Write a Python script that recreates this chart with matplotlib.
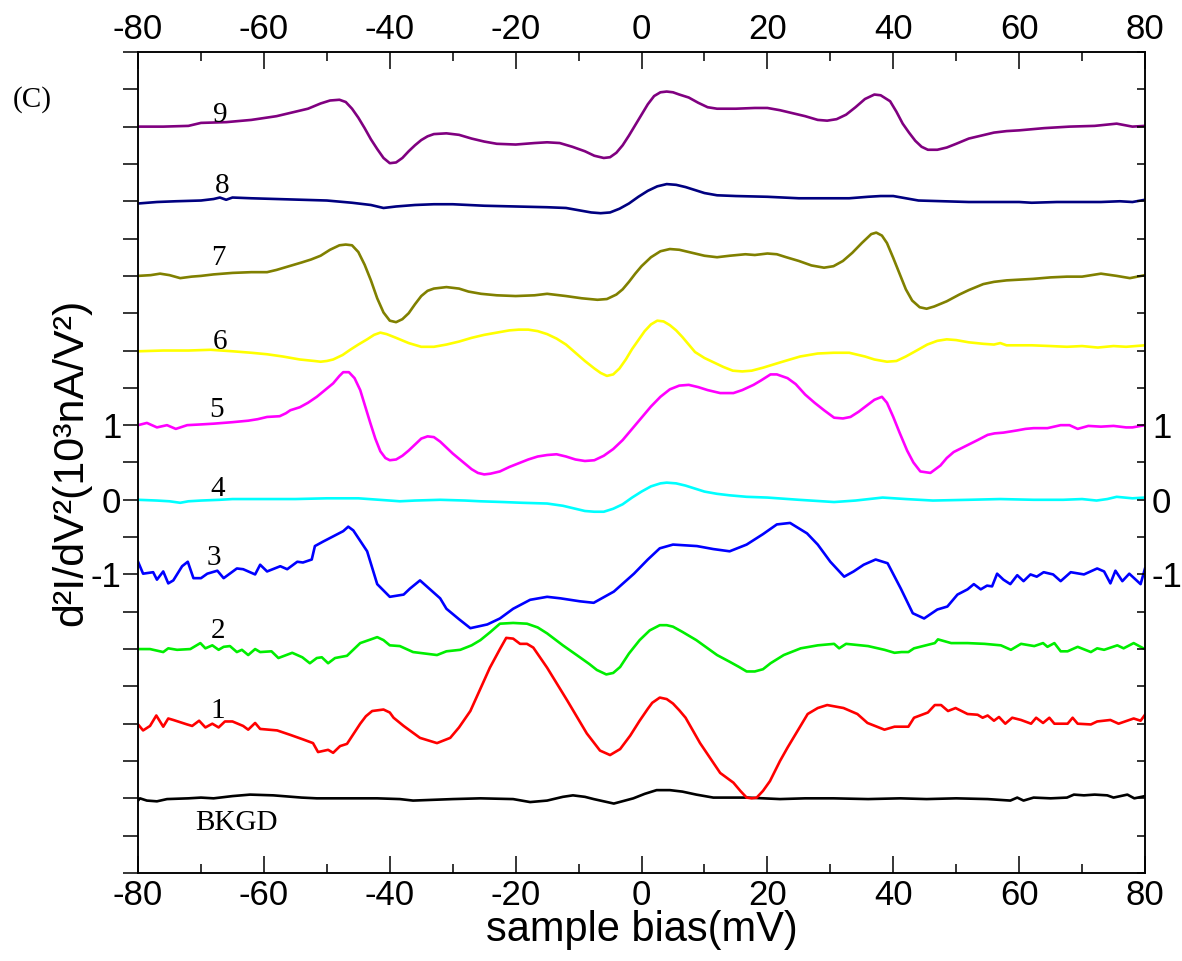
import matplotlib
matplotlib.use("Agg")
import matplotlib.pyplot as plt
from matplotlib.ticker import FixedLocator, MultipleLocator, FormatStrFormatter
import numpy as np

# Second-derivative tunneling spectra, each trace stacked by one unit
bkgd_x = [-80, -79.7, -78.6, -77, -75.4, -72, -70, -68, -65, -62.2, -58.5, -57, -54, -51.6, -46.3, -42, -38.4, -36.3, -30, -25.6, -20.4, -17.7, -15, -12.5, -10.9, -9, -7.6, -4.4, -1.3, 0.5, 2.4, 4.5, 6.5, 8.7, 11.4, 14, 16.8, 22, 26, 30.5, 36, 41.1, 45.3, 50, 55, 58.6, 59.7, 60.7, 62.3, 65, 67.6, 68.7, 70.3, 72, 74, 75, 77.2, 78.3, 80]
bkgd_y = [-0.03, 0.0, -0.03, -0.04, -0.01, 0.0, 0.01, 0.0, 0.03, 0.05, 0.04, 0.03, 0.01, 0.0, 0.0, 0.0, -0.01, -0.03, -0.01, 0.0, -0.01, -0.05, -0.03, 0.02, 0.04, 0.02, -0.01, -0.07, 0.0, 0.06, 0.11, 0.11, 0.09, 0.05, 0.01, 0.01, 0.01, -0.01, 0.0, 0.0, -0.01, 0.0, -0.01, 0.0, -0.01, -0.03, 0.01, -0.03, 0.01, 0.0, 0.01, 0.05, 0.04, 0.05, 0.04, 0.01, 0.05, 0.0, 0.03]

s1_x = [-80, -79.2, -78.1, -77.1, -76, -75.2, -74.4, -72.2, -71.4, -70.3, -69.3, -68.2, -67.2, -66.2, -65, -63.3, -62.5, -61.4, -60.6, -57.9, -55.8, -53.8, -52.2, -51.4, -49.8, -49, -47.9, -46.8, -44.7, -43.8, -42.8, -41, -40, -39.4, -37.8, -35.2, -32.5, -30.4, -29, -27.2, -24.1, -22.5, -21.5, -20.4, -19.3, -18.2, -17.2, -15, -11.8, -8.7, -6.6, -5, -3.4, -1.8, -0.3, 1, 1.7, 2.9, 4, 5, 6, 7, 9.3, 12.5, 14.6, 15.7, 16.7, 17.5, 18.3, 19.3, 20.4, 22, 23.2, 26.4, 28, 29.5, 32.1, 34.3, 35.9, 38.6, 40.2, 42.4, 43.3, 45.5, 46.6, 47.6, 48.7, 49.9, 51.8, 53.4, 54.2, 55, 56, 56.8, 57.8, 58.9, 60.3, 61.9, 62.7, 63.8, 64.8, 65.6, 67.7, 68.5, 69.3, 71.4, 72.4, 74.5, 75.8, 78.2, 79.3, 80]
s1_y = [-0.01, -0.09, -0.03, 0.11, -0.04, 0.07, 0.05, -0.01, -0.03, 0.04, -0.05, 0.0, -0.05, 0.03, 0.03, -0.03, -0.08, 0.01, -0.07, -0.09, -0.15, -0.21, -0.26, -0.38, -0.35, -0.39, -0.3, -0.27, 0.0, 0.1, 0.17, 0.19, 0.15, 0.08, -0.03, -0.19, -0.26, -0.19, -0.05, 0.17, 0.75, 1.0, 1.15, 1.14, 1.07, 1.07, 1.02, 0.75, 0.31, -0.13, -0.36, -0.42, -0.34, -0.16, 0.04, 0.2, 0.28, 0.35, 0.33, 0.27, 0.18, 0.08, -0.26, -0.66, -0.79, -0.9, -0.99, -1.0, -0.99, -0.9, -0.77, -0.5, -0.32, 0.13, 0.21, 0.25, 0.21, 0.13, 0.01, -0.08, -0.04, -0.04, 0.08, 0.15, 0.25, 0.25, 0.17, 0.21, 0.13, 0.12, 0.08, 0.11, 0.04, 0.09, 0.0, 0.08, 0.05, 0.0, 0.08, 0.01, 0.08, 0.0, 0.0, 0.08, 0.0, -0.01, 0.03, 0.05, 0.0, 0.07, 0.04, 0.12]

s2_x = [-80, -78.1, -76, -75.2, -73.8, -71.7, -70.1, -69.3, -68.2, -67.2, -66.4, -65.4, -64.3, -63.5, -62.5, -61.4, -60.6, -58.8, -57.7, -55.5, -53.9, -52.7, -51.6, -50.8, -49.8, -48.7, -46.8, -44.7, -43, -42, -41, -40, -38.4, -36.3, -32.5, -31, -28.8, -27, -25.6, -24, -22.5, -20.4, -18.2, -16.5, -15, -12.5, -9.8, -8.3, -7.1, -5.6, -4.5, -3.4, -2, -0.3, 1.3, 2.9, 4, 5, 6.5, 8.7, 12, 14, 15.5, 16.7, 18, 19.3, 20.5, 22.6, 25.3, 28, 30.6, 31.4, 32.5, 36, 38.6, 40.2, 41.3, 42.4, 43.3, 46.6, 47.1, 49.2, 51.8, 54.5, 57.1, 58.7, 60.3, 62.4, 63.8, 64.5, 65.6, 66.6, 67.7, 69.3, 71.4, 72.4, 73.5, 75.6, 76.6, 78.2, 79.3, 80]
s2_y = [0.0, 0.0, -0.04, 0.01, -0.01, 0.0, 0.08, 0.01, 0.05, -0.01, 0.03, 0.04, -0.04, -0.01, -0.08, 0.0, -0.04, -0.03, -0.12, -0.05, -0.11, -0.19, -0.12, -0.11, -0.19, -0.12, -0.09, 0.08, 0.13, 0.16, 0.12, 0.05, 0.04, -0.04, -0.08, -0.03, -0.01, 0.05, 0.12, 0.23, 0.34, 0.35, 0.34, 0.29, 0.21, 0.05, -0.11, -0.2, -0.28, -0.34, -0.32, -0.24, -0.06, 0.12, 0.25, 0.32, 0.32, 0.3, 0.23, 0.12, -0.08, -0.17, -0.24, -0.3, -0.3, -0.27, -0.19, -0.08, 0.01, 0.05, 0.07, 0.01, 0.07, 0.04, -0.01, -0.05, -0.04, -0.04, 0.01, 0.08, 0.13, 0.08, 0.08, 0.07, 0.05, -0.01, 0.07, 0.04, 0.08, 0.03, 0.08, -0.03, -0.03, 0.03, -0.04, 0.01, -0.01, 0.05, 0.01, 0.08, 0.03, 0.0]

s3_x = [-80, -79.2, -77.6, -77, -76, -75.2, -74.4, -73, -72.1, -71.2, -70, -69, -67.4, -66.4, -64.3, -63.3, -61.4, -60.6, -59.5, -57.4, -56.3, -54.7, -53.8, -52.4, -51.9, -50.6, -49, -47.4, -46.6, -45.8, -43.6, -42, -40, -37.8, -36.8, -35.2, -32, -31, -29, -27.2, -24.5, -22.5, -20.4, -17.7, -15, -12.9, -9.8, -7.6, -4.4, -1.2, 1, 2.9, 5, 8.8, 11.4, 14, 16.7, 19.3, 21.5, 23.6, 26.3, 28, 30, 32.2, 33.7, 35.3, 37.2, 39.1, 41.2, 43.1, 44.9, 47, 48.6, 50.2, 51.8, 52.8, 53.9, 54.9, 55.7, 56.5, 57.5, 58.6, 59.7, 60.7, 61.8, 62.8, 63.9, 65.4, 66.6, 68.2, 70.3, 72.4, 73.5, 74.5, 75.3, 76.4, 77.5, 79.3, 80]
s3_y = [0.17, 0.01, 0.03, -0.07, 0.04, -0.12, -0.08, 0.11, 0.17, -0.05, -0.05, 0.01, 0.05, -0.05, 0.08, 0.07, 0.0, 0.13, 0.04, 0.11, 0.07, 0.17, 0.16, 0.2, 0.38, 0.44, 0.51, 0.58, 0.64, 0.59, 0.31, -0.13, -0.3, -0.27, -0.19, -0.08, -0.32, -0.46, -0.6, -0.72, -0.67, -0.59, -0.46, -0.34, -0.3, -0.32, -0.36, -0.38, -0.23, 0.01, 0.2, 0.35, 0.4, 0.38, 0.34, 0.31, 0.4, 0.54, 0.67, 0.69, 0.55, 0.4, 0.17, -0.03, 0.04, 0.13, 0.2, 0.15, -0.19, -0.52, -0.59, -0.47, -0.43, -0.27, -0.2, -0.13, -0.2, -0.15, -0.16, 0.01, -0.07, -0.13, -0.01, -0.09, 0.0, -0.03, 0.03, 0.0, -0.09, 0.03, 0.0, 0.08, 0.04, -0.12, 0.05, -0.09, 0.01, -0.13, 0.08]

s4_x = [-80, -77, -75, -73.3, -72, -70, -67, -65, -60, -55, -50, -45, -40, -38.4, -36, -32, -28, -25.6, -22, -19, -15, -12.5, -10.5, -9, -7.5, -6, -4.5, -3, -1.5, 0, 1.5, 3, 4, 5.5, 7, 8.5, 10, 12, 14, 16.7, 20, 25, 30.6, 34, 38.3, 42, 46.3, 52, 57, 62.3, 67, 70, 72.3, 74, 75.5, 78, 80]
s4_y = [0.0, -0.01, -0.02, -0.04, -0.02, -0.01, 0.0, 0.01, 0.01, 0.01, 0.02, 0.02, -0.01, -0.02, -0.01, 0.0, -0.01, -0.02, -0.03, -0.04, -0.05, -0.08, -0.12, -0.15, -0.16, -0.16, -0.12, -0.06, 0.03, 0.11, 0.18, 0.22, 0.23, 0.22, 0.19, 0.15, 0.11, 0.08, 0.06, 0.04, 0.03, 0.0, -0.03, -0.01, 0.03, 0.01, -0.01, 0.0, 0.01, 0.0, 0.0, 0.01, -0.01, 0.01, 0.04, 0.02, 0.03]

s5_x = [-80, -78.6, -77, -75.4, -74, -72.2, -70, -68, -65, -62.5, -61, -59.5, -57.5, -56.5, -55.8, -54.3, -53, -51.6, -50.3, -49, -48, -47.4, -46.5, -45.6, -44.7, -43.9, -43.1, -42.3, -41.5, -40.7, -40, -39, -38, -37, -36, -35, -34, -33, -32, -31, -30, -29, -28, -27, -26, -25, -24, -22.5, -21, -19.5, -18, -16.5, -15, -13.5, -12, -10.5, -9, -7.5, -6, -4.5, -3, -1.5, 0, 1.5, 3, 4.5, 6, 7.5, 9, 10.5, 12.5, 14.6, 16, 17.8, 19, 20.5, 21.5, 23.2, 24.5, 26, 27.5, 29, 30.6, 32, 33.2, 34.5, 35.9, 37, 38.2, 39, 40, 41, 42.2, 43.2, 44.3, 45.9, 47.5, 48.5, 49.6, 51.5, 53.4, 55, 56.1, 57.5, 59.7, 61, 62.3, 64.5, 66.6, 68, 69.3, 71, 73, 75, 77, 78, 80]
s5_y = [0.0, 0.03, -0.03, 0.0, -0.05, 0.0, 0.01, 0.02, 0.04, 0.06, 0.08, 0.11, 0.12, 0.16, 0.2, 0.24, 0.3, 0.38, 0.47, 0.56, 0.66, 0.71, 0.71, 0.63, 0.47, 0.25, 0.03, -0.18, -0.35, -0.44, -0.47, -0.46, -0.41, -0.34, -0.26, -0.18, -0.15, -0.16, -0.22, -0.3, -0.38, -0.45, -0.52, -0.59, -0.64, -0.66, -0.65, -0.62, -0.56, -0.51, -0.46, -0.42, -0.4, -0.39, -0.42, -0.46, -0.48, -0.47, -0.41, -0.32, -0.2, -0.05, 0.1, 0.25, 0.38, 0.48, 0.53, 0.54, 0.51, 0.47, 0.43, 0.43, 0.47, 0.54, 0.6, 0.68, 0.68, 0.63, 0.55, 0.41, 0.3, 0.2, 0.1, 0.09, 0.11, 0.18, 0.27, 0.34, 0.38, 0.3, 0.11, -0.1, -0.34, -0.5, -0.62, -0.64, -0.54, -0.44, -0.36, -0.28, -0.2, -0.13, -0.11, -0.1, -0.07, -0.05, -0.04, -0.04, 0.0, 0.0, -0.05, -0.01, -0.02, -0.01, -0.03, -0.03, 0.0]

s6_x = [-80, -76, -72, -68.5, -65, -62, -59.5, -57, -54.3, -52, -51, -50, -49, -47.5, -46.3, -45, -43.6, -42.5, -41.5, -40.5, -39, -37, -35, -33, -31, -29, -27, -25, -23, -21, -19.5, -18, -16.5, -15, -13.5, -12, -10.5, -9, -7.5, -6.5, -5.5, -4.5, -3.5, -2.5, -1.5, -0.5, 0.5, 1.5, 2.5, 3.5, 4.5, 5.5, 6.5, 7.5, 8.5, 10, 11.5, 13, 14.5, 16, 17.5, 19.3, 22, 25.2, 28, 30.5, 33, 35.5, 37, 39, 40.5, 42, 43.5, 45.4, 47, 48.5, 50, 52, 54.3, 56, 57, 58, 62, 65, 67.6, 70, 72.5, 75, 77, 80]
s6_y = [-0.01, 0.0, 0.0, 0.01, -0.01, -0.03, -0.05, -0.08, -0.12, -0.14, -0.15, -0.14, -0.12, -0.06, 0.01, 0.08, 0.15, 0.21, 0.24, 0.22, 0.17, 0.1, 0.05, 0.05, 0.08, 0.12, 0.17, 0.21, 0.24, 0.27, 0.28, 0.28, 0.26, 0.22, 0.16, 0.08, -0.03, -0.14, -0.24, -0.3, -0.34, -0.32, -0.24, -0.12, 0.02, 0.14, 0.26, 0.35, 0.4, 0.39, 0.34, 0.27, 0.18, 0.08, -0.02, -0.1, -0.16, -0.22, -0.27, -0.28, -0.27, -0.23, -0.16, -0.08, -0.04, -0.03, -0.03, -0.08, -0.12, -0.15, -0.14, -0.08, -0.01, 0.08, 0.13, 0.15, 0.14, 0.11, 0.09, 0.08, 0.1, 0.07, 0.07, 0.06, 0.05, 0.06, 0.04, 0.06, 0.05, 0.07]

s7_x = [-80, -78, -76.5, -75, -73.3, -71.5, -70, -68, -65, -62, -59.5, -58, -56, -54, -52.5, -51, -49.5, -48, -47, -46, -45, -44, -43, -42, -41, -40, -39, -38, -37, -36, -35, -34, -33, -31, -29, -27.5, -25.5, -23, -20, -17, -15, -12, -9.5, -7, -5.5, -4, -3, -2, -1, 0, 1.5, 3, 4.5, 6, 8, 10, 12, 14, 16.5, 18, 20, 21.5, 23, 25, 27, 29, 30.5, 32, 33.5, 35, 36.5, 37.3, 38.2, 39, 40, 41, 42, 43, 44.2, 45.3, 46.5, 48.5, 50.5, 52, 54.3, 56, 58, 62.2, 65, 67.6, 70, 73, 75.5, 77.6, 80]
s7_y = [0.0, 0.01, 0.03, 0.01, -0.03, -0.01, 0.0, 0.02, 0.04, 0.05, 0.05, 0.08, 0.13, 0.18, 0.22, 0.27, 0.35, 0.41, 0.42, 0.41, 0.32, 0.15, -0.06, -0.3, -0.49, -0.6, -0.62, -0.58, -0.5, -0.38, -0.27, -0.2, -0.17, -0.15, -0.17, -0.21, -0.24, -0.26, -0.27, -0.26, -0.24, -0.27, -0.3, -0.32, -0.31, -0.25, -0.18, -0.08, 0.03, 0.13, 0.25, 0.33, 0.36, 0.35, 0.31, 0.27, 0.25, 0.27, 0.29, 0.28, 0.3, 0.29, 0.25, 0.2, 0.14, 0.11, 0.13, 0.2, 0.31, 0.44, 0.56, 0.58, 0.54, 0.44, 0.24, 0.03, -0.18, -0.33, -0.42, -0.44, -0.41, -0.34, -0.25, -0.19, -0.11, -0.08, -0.06, -0.04, -0.02, -0.01, -0.01, 0.03, 0.0, -0.03, 0.01]

s8_x = [-80, -77, -74, -70, -68, -67, -66, -65, -62, -58, -54, -50, -46, -43, -41, -39, -36, -33, -30, -25, -20, -15, -12, -10, -8, -6.5, -5, -3.5, -2, -0.5, 1, 2.5, 4, 5.5, 7, 8.5, 10, 12, 15, 20, 25, 30, 33, 36, 38, 40, 42, 44, 48, 52, 56, 60, 62, 66, 70, 73, 76, 78, 80]
s8_y = [-0.03, -0.01, 0.0, 0.01, 0.03, 0.05, 0.02, 0.05, 0.04, 0.03, 0.02, 0.01, -0.02, -0.05, -0.09, -0.07, -0.05, -0.04, -0.04, -0.06, -0.07, -0.08, -0.09, -0.12, -0.15, -0.16, -0.15, -0.1, -0.03, 0.06, 0.14, 0.2, 0.23, 0.22, 0.19, 0.15, 0.11, 0.08, 0.07, 0.06, 0.04, 0.04, 0.04, 0.06, 0.07, 0.07, 0.04, 0.01, 0.0, -0.01, -0.01, -0.01, -0.02, -0.01, -0.01, -0.01, 0.0, -0.01, 0.02]

s9_x = [-80, -76, -72, -70, -66, -62, -58, -55, -53, -51, -49.5, -48, -47, -46, -45, -44, -43, -42, -41, -40, -39, -38, -37, -36, -35, -34, -33, -31, -29, -27, -25, -23, -20, -17, -15, -13, -11, -9, -7.5, -6, -5, -4, -3, -2, -1, 0, 1, 2, 3, 4, 5, 6, 7.5, 9, 10.5, 12, 15, 18, 20, 22, 24, 26, 28, 29.5, 31, 32.5, 34, 35.5, 37, 38, 39.5, 40.5, 41.5, 42.5, 43.5, 44.5, 45.5, 47, 48.5, 50, 52, 54, 56, 58, 60, 64, 68, 72, 75.5, 78, 80]
s9_y = [0.0, 0.0, 0.01, 0.05, 0.06, 0.09, 0.14, 0.2, 0.24, 0.31, 0.35, 0.36, 0.33, 0.24, 0.12, -0.02, -0.17, -0.3, -0.42, -0.49, -0.48, -0.42, -0.33, -0.25, -0.18, -0.13, -0.1, -0.09, -0.11, -0.16, -0.2, -0.23, -0.24, -0.22, -0.21, -0.22, -0.27, -0.33, -0.39, -0.42, -0.41, -0.35, -0.25, -0.12, 0.02, 0.16, 0.3, 0.41, 0.46, 0.47, 0.46, 0.43, 0.39, 0.32, 0.26, 0.24, 0.24, 0.25, 0.25, 0.22, 0.18, 0.14, 0.09, 0.08, 0.1, 0.16, 0.26, 0.37, 0.43, 0.42, 0.34, 0.2, 0.04, -0.08, -0.19, -0.27, -0.31, -0.31, -0.28, -0.23, -0.16, -0.12, -0.08, -0.06, -0.05, -0.02, 0.0, 0.01, 0.04, 0.0, 0.01]

series_x = [bkgd_x, s1_x, s2_x, s3_x, s4_x, s5_x, s6_x, s7_x, s8_x, s9_x]
series_y = [bkgd_y, s1_y, s2_y, s3_y, s4_y, s5_y, s6_y, s7_y, s8_y, s9_y]
offsets = [-4, -3, -2, -1, 0, 1, 2, 3, 4, 5]
colors = ["#000000", "#ff0000", "#00ee00", "#0000ff", "#00ffff",
          "#ff00ff", "#ffff00", "#808000", "#000080", "#800080"]
trace_names = ["BKGD", "1", "2", "3", "4", "5", "6", "7", "8", "9"]
name_x = [-64.4, -67.3, -67.3, -68.0, -67.3, -67.5, -67.0, -67.3, -66.7, -67.0]
name_y = [-4.33, -2.83, -1.76, -0.78, 0.15, 1.2, 2.11, 3.24, 4.2, 5.16]

sans = "Liberation Sans"
serif = "Liberation Serif"

fig = plt.figure(figsize=(11.82, 9.61), dpi=100)
ax = fig.add_axes([0.1168, 0.0916, 0.8519, 0.8543])

for xs, ys, off, c in zip(series_x, series_y, offsets, colors):
    ax.plot(xs, np.asarray(ys) + off, color=c, lw=1.9, solid_joinstyle="round")

for name, tx, ty in zip(trace_names, name_x, name_y):
    ax.text(tx, ty, name, family=serif, fontsize=21, ha="center", va="center")

ax.set_xlim(-80, 80)
ax.set_ylim(-5, 6)

# x axis: inward ticks on both top and bottom, labelled on both
ax.xaxis.set_major_locator(MultipleLocator(20))
ax.xaxis.set_minor_locator(MultipleLocator(10))
ax.xaxis.set_major_formatter(FormatStrFormatter("%d"))
ax.tick_params(axis="x", which="both", direction="in", top=True, bottom=True,
               labeltop=True, labelbottom=True, width=1.1, labelsize=25, pad=4)
ax.tick_params(axis="x", which="major", length=12)
ax.tick_params(axis="x", which="minor", length=6.5)

# left y axis: outward ticks every half unit, labels only at -1, 0, 1
ax.yaxis.set_major_locator(FixedLocator([-1, 0, 1]))
ax.yaxis.set_minor_locator(MultipleLocator(0.5))
ax.yaxis.set_major_formatter(FormatStrFormatter("%d"))
ax.tick_params(axis="y", which="both", direction="out", left=True, right=False,
               length=11, width=1.1, labelsize=25, pad=1)

# right y axis: inward ticks, same labels
axr = ax.twinx()
axr.set_ylim(ax.get_ylim())
axr.yaxis.set_major_locator(FixedLocator([-1, 0, 1]))
axr.yaxis.set_minor_locator(MultipleLocator(0.5))
axr.yaxis.set_major_formatter(FormatStrFormatter("%d"))
axr.tick_params(axis="y", which="both", direction="in", right=True, left=False,
                length=6, width=1.1, labelsize=25, pad=5)

for a in (ax, axr):
    for sp in a.spines.values():
        sp.set_linewidth(1.1)
    for lbl in a.get_xticklabels() + a.get_yticklabels():
        lbl.set_family(sans)

ax.set_xlabel("sample bias(mV)", family=sans, fontsize=30)
ax.xaxis.set_label_coords(0.5, -0.045)
ax.set_ylabel("d\u00b2I/dV\u00b2(10\u00b3nA/V\u00b2)", family=sans, fontsize=31)
ax.yaxis.set_label_coords(-0.046, 0.5)

fig.text(32 / 1182, 1 - 100 / 961, "(C)", family=serif, fontsize=21,
         ha="center", va="center")

fig.savefig("out.png", dpi=100)
